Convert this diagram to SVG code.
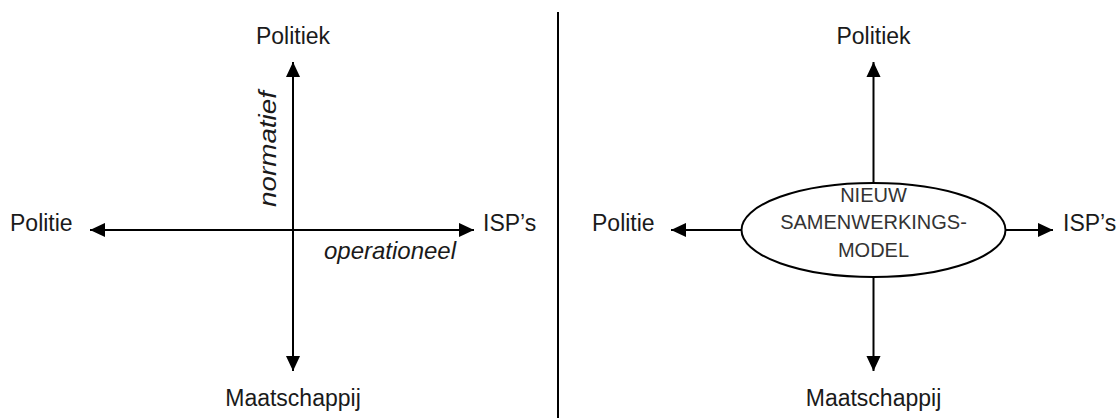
<svg xmlns="http://www.w3.org/2000/svg" width="1119" height="418" viewBox="0 0 1119 418">
  <style>
    .lbl { font-family: "Liberation Sans", Arial, sans-serif; font-size: 23px; fill: #1a1a1a; }
    .axis { font-family: "Liberation Sans", Arial, sans-serif; font-size: 24px; font-style: italic; fill: #1a1a1a; }
    .core { font-family: "Liberation Sans", Arial, sans-serif; font-size: 20px; fill: #333; }
    .ln { stroke: #000; stroke-width: 2; fill: none; }
  </style>
  <defs>
    <marker id="arrow" viewBox="0 0 10 10" refX="10" refY="5" markerWidth="7.5" markerHeight="7.5" orient="auto-start-reverse" markerUnits="strokeWidth">
      <path d="M0,0.3 L10,5 L0,9.7 Z" fill="#000"/>
    </marker>
  </defs>
  <rect width="1119" height="418" fill="#fff"/>

  <!-- divider between the two schemes -->
  <line x1="558" y1="12" x2="558" y2="418" class="ln"/>

  <!-- left scheme: two axes -->
  <g id="connectors-left">
    <line x1="293" y1="62" x2="293" y2="371" class="ln" marker-start="url(#arrow)" marker-end="url(#arrow)"/>
    <line x1="90" y1="230" x2="474" y2="230" class="ln" marker-start="url(#arrow)" marker-end="url(#arrow)"/>
  </g>
  <g id="l-politiek"><text x="293" y="44" text-anchor="middle" class="lbl">Politiek</text></g>
  <g id="l-maatschappij"><text x="293" y="406" text-anchor="middle" class="lbl">Maatschappij</text></g>
  <g id="l-politie"><text x="10" y="231" class="lbl">Politie</text></g>
  <g id="l-isps"><text x="483" y="231" class="lbl">ISP’s</text></g>
  <g id="l-normatief"><text transform="translate(276,149) rotate(-90)" text-anchor="middle" textLength="116" lengthAdjust="spacingAndGlyphs" class="axis">normatief</text></g>
  <g id="l-operationeel"><text x="390" y="259" text-anchor="middle" class="axis">operationeel</text></g>

  <!-- right scheme: new model in the centre -->
  <g id="connectors-right">
    <line x1="873.5" y1="183" x2="873.5" y2="62" class="ln" marker-end="url(#arrow)"/>
    <line x1="873.5" y1="277" x2="873.5" y2="371" class="ln" marker-end="url(#arrow)"/>
    <line x1="741.5" y1="230" x2="671" y2="230" class="ln" marker-end="url(#arrow)"/>
    <line x1="1005.5" y1="230" x2="1053" y2="230" class="ln" marker-end="url(#arrow)"/>
  </g>
  <g id="model">
    <ellipse cx="873.5" cy="230" rx="132" ry="47" class="ln"/>
    <text x="873.5" y="202" text-anchor="middle" class="core">NIEUW</text>
    <text x="873.5" y="229" text-anchor="middle" class="core">SAMENWERKINGS-</text>
    <text x="873.5" y="257" text-anchor="middle" class="core">MODEL</text>
  </g>
  <g id="r-politiek"><text x="873.5" y="44" text-anchor="middle" class="lbl">Politiek</text></g>
  <g id="r-maatschappij"><text x="873.5" y="406" text-anchor="middle" class="lbl">Maatschappij</text></g>
  <g id="r-politie"><text x="592" y="231" class="lbl">Politie</text></g>
  <g id="r-isps"><text x="1063" y="231" class="lbl">ISP’s</text></g>
</svg>
